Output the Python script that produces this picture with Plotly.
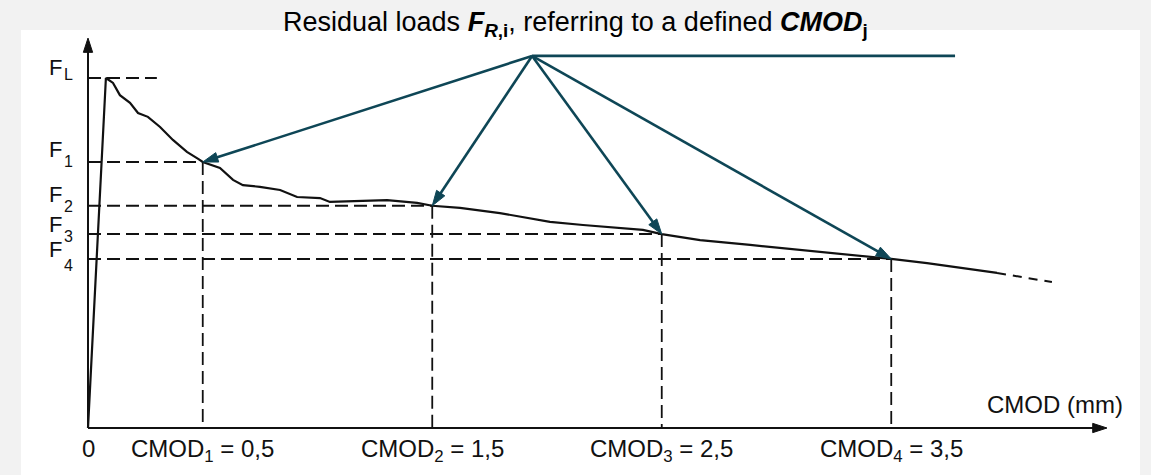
import plotly.graph_objects as go

# ---------------- data (CMOD in mm, load relative to F_L) ----------------
cmod_j = [0.5, 1.5, 2.5, 3.5]
F_R = [0.760, 0.635, 0.554, 0.483]
F_L = 1.0

curve_cmod = [0.0, 0.078, 0.109, 0.139, 0.183, 0.218, 0.261, 0.314, 0.370, 0.431,
              0.480, 0.500, 0.575, 0.632, 0.675, 0.749, 0.837, 0.911, 1.011, 1.054,
              1.303, 1.434, 1.500, 1.621, 1.795, 2.013, 2.157, 2.418, 2.500, 2.667,
              2.885, 3.102, 3.500, 3.656, 3.961]
curve_F = [0.0, 1.000, 0.986, 0.951, 0.929, 0.900, 0.889, 0.860, 0.823, 0.789,
           0.769, 0.760, 0.743, 0.709, 0.694, 0.689, 0.680, 0.660, 0.657, 0.646,
           0.651, 0.643, 0.635, 0.629, 0.614, 0.589, 0.580, 0.566, 0.554, 0.537,
           0.523, 0.509, 0.483, 0.471, 0.443]
tail_cmod = [3.961, 4.200]
tail_F = [0.443, 0.417]

F_subscripts = ["L", "1", "2", "3", "4"]
cmod_labels = ["CMOD<sub>1</sub> = 0,5", "CMOD<sub>2</sub> = 1,5",
               "CMOD<sub>3</sub> = 2,5", "CMOD<sub>4</sub> = 3,5"]
origin_label = "0"
x_title = "CMOD (mm)"
title = ("Residual loads <b><i>F</i></b><sub><b><i>R</i>,i</b></sub>, "
         "referring to a defined <b><i>CMOD</i></b><sub><b>j</b></sub>")

# ---------------- layout helpers (not data) ----------------
W, H = 1151, 475
X_RANGE = [-88 / 229.5, (W - 88) / 229.5]
Y_RANGE = [(428 - H) / 350, 428 / 350]
X_AXIS_END = 4.44
Y_AXIS_END = 1.114
FL_DASH_END = 0.30
HUB = (1.935, 1.063)
HUB_LINE_END = 3.778
F_letter_yshift = [10.5, 12.5, 11, 9.5, 9]
F_sub_yshift = [3.5, 1, -0.5, -2, -7]

FONT = "Liberation Sans, Arial, sans-serif"
INK = "#111111"
TEAL = "#0e4656"
DASH = "13px,6px"
LBL = 24

fig = go.Figure()

# axes with arrow heads
for xs, ys in (([0, X_AXIS_END], [0, 0]), ([0, 0], [0, Y_AXIS_END])):
    fig.add_trace(go.Scatter(x=xs, y=ys, mode="lines+markers",
                             line=dict(color=INK, width=2),
                             marker=dict(symbol="arrow", angleref="previous", size=[0, 15],
                                         opacity=1, color=INK,
                                         line=dict(width=1, color=INK)),
                             hoverinfo="skip"))

# main curve
fig.add_trace(go.Scatter(x=curve_cmod, y=curve_F, mode="lines",
                         line=dict(color=INK, width=2.2), hoverinfo="skip"))
fig.add_trace(go.Scatter(x=tail_cmod, y=tail_F, mode="lines",
                         line=dict(color=INK, width=2, dash="9px,7px"), hoverinfo="skip"))

# teal pointer arrows
for xc, fr in zip(cmod_j, F_R):
    fig.add_trace(go.Scatter(x=[HUB[0], xc], y=[HUB[1], fr], mode="lines+markers",
                             line=dict(color=TEAL, width=2.6),
                             marker=dict(symbol="arrow", angleref="previous", size=[0, 16],
                                         opacity=1, color=TEAL,
                                         line=dict(width=1, color=TEAL)),
                             hoverinfo="skip"))
fig.add_trace(go.Scatter(x=[HUB[0], HUB_LINE_END], y=[HUB[1], HUB[1]], mode="lines",
                         line=dict(color=TEAL, width=2.8), hoverinfo="skip"))

shapes = []
# white panel
shapes.append(dict(type="rect", xref="paper", yref="paper",
                   x0=21 / W, x1=1140 / W, y0=0, y1=(H - 30) / H,
                   fillcolor="white", line=dict(width=0), layer="below"))
# F_L dashed
shapes.append(dict(type="line", xref="x", yref="y", x0=0, x1=FL_DASH_END, y0=F_L, y1=F_L,
                   line=dict(color=INK, width=2, dash=DASH), layer="below"))
for xc, fr in zip(cmod_j, F_R):
    shapes.append(dict(type="line", xref="x", yref="y", x0=0, x1=xc, y0=fr, y1=fr,
                       line=dict(color=INK, width=2, dash=DASH), layer="below"))
    shapes.append(dict(type="line", xref="x", yref="y", x0=xc, x1=xc, y0=fr, y1=0,
                       line=dict(color=INK, width=1.8, dash=DASH), layer="below"))

ann = []
# F labels: letter and subscript set separately
for fr, sub, ysl, yss in zip([F_L] + F_R, F_subscripts, F_letter_yshift, F_sub_yshift):
    ann.append(dict(x=0, y=fr, xref="x", yref="y", text="F", showarrow=False,
                    xanchor="right", yanchor="middle", xshift=-24, yshift=ysl,
                    font=dict(family=FONT, size=22, color=INK)))
    ann.append(dict(x=0, y=fr, xref="x", yref="y", text=sub, showarrow=False,
                    xanchor="left", yanchor="middle", xshift=-26, yshift=yss,
                    font=dict(family=FONT, size=16, color=INK)))
# bottom labels
for xc, lab in zip([0] + cmod_j, [origin_label] + cmod_labels):
    ann.append(dict(x=xc, y=0, xref="x", yref="y", text=lab, showarrow=False,
                    xanchor="center", yanchor="top", yshift=-5,
                    font=dict(family=FONT, size=LBL, color=INK)))
ann.append(dict(x=X_AXIS_END, y=0, xref="x", yref="y", text=x_title, showarrow=False,
                xanchor="right", yanchor="bottom", xshift=18, yshift=8,
                font=dict(family=FONT, size=LBL, color=INK)))
# title
ann.append(dict(x=0.5, y=(H - 24) / H, xref="paper", yref="paper", text=title,
                showarrow=False, xanchor="center", yanchor="middle",
                font=dict(family=FONT, size=27, color="#000000")))

fig.update_layout(
    width=W, height=H, margin=dict(l=0, r=0, t=0, b=0),
    paper_bgcolor="#f2f2f2", plot_bgcolor="rgba(0,0,0,0)",
    showlegend=False, shapes=shapes, annotations=ann,
    xaxis=dict(range=X_RANGE, visible=False, domain=[0, 1], fixedrange=True),
    yaxis=dict(range=Y_RANGE, visible=False, domain=[0, 1], fixedrange=True),
)
fig.write_html("out.html")
